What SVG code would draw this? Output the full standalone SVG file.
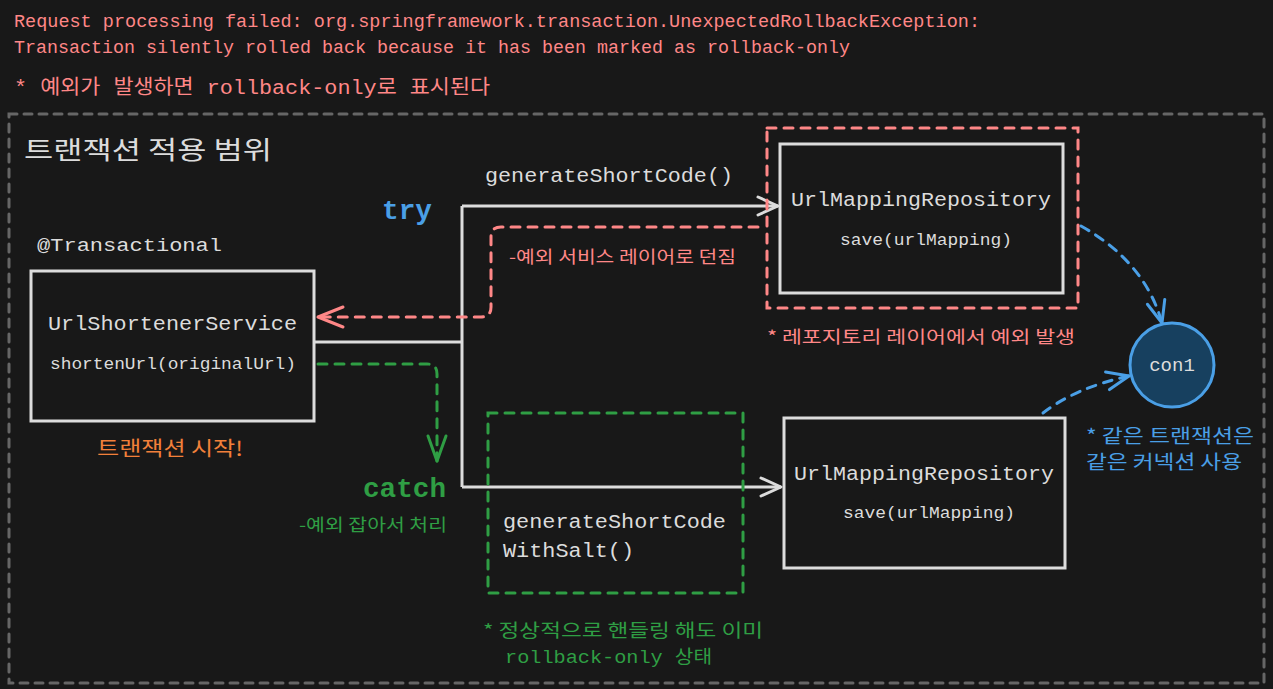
<svg xmlns="http://www.w3.org/2000/svg" width="1273" height="689" viewBox="0 0 1273 689">
<style>
text{font-family:"Liberation Mono","Noto Sans CJK KR",monospace;}
.kr{font-family:"Noto Sans CJK KR","Liberation Mono",sans-serif;}
.red{fill:#ff8787;}
.grn{fill:#2f9e44;}
.blu{fill:#4a9fe6;}
.wht{fill:#dcdcdc;}
.org{fill:#f2803a;}
.box{fill:none;stroke:#dcdcdc;stroke-width:3;}
.line{fill:none;stroke:#dcdcdc;stroke-width:3;}
.rdash{fill:none;stroke:#ff8787;stroke-width:3;stroke-dasharray:9 8;stroke-linecap:round;}
.gdash{fill:none;stroke:#2f9e44;stroke-width:3;stroke-dasharray:9 8;stroke-linecap:round;}
.bdash{fill:none;stroke:#4a9fe6;stroke-width:3;stroke-dasharray:9 8;stroke-linecap:round;}
.head{fill:none;stroke-width:3;stroke-linecap:round;stroke-linejoin:round;}
</style>
<defs>
<marker id="hw" markerUnits="userSpaceOnUse" viewBox="-24 -12 28 24" refX="0" refY="0" markerWidth="28" markerHeight="24" orient="auto"><path d="M-20,-9 L0,0 L-20,9" class="head" stroke="#dcdcdc"/></marker>
<marker id="hr" markerUnits="userSpaceOnUse" viewBox="-30 -14 34 28" refX="0" refY="0" markerWidth="34" markerHeight="28" orient="auto"><path d="M-25,-10 L0,0 L-25,10" class="head" stroke="#ff8787"/></marker>
<marker id="hg" markerUnits="userSpaceOnUse" viewBox="-30 -14 34 28" refX="0" refY="0" markerWidth="34" markerHeight="28" orient="auto"><path d="M-25,-9 L0,0 L-25,9" class="head" stroke="#2f9e44"/></marker>
<marker id="hb" markerUnits="userSpaceOnUse" viewBox="-30 -14 34 28" refX="0" refY="0" markerWidth="34" markerHeight="28" orient="auto"><path d="M-22,-9 L0,0 L-22,9" class="head" stroke="#4a9fe6"/></marker>
</defs>
<rect width="1273" height="689" fill="#181818"/>

<g id="header">
<text x="14" y="27" font-size="18" class="red" textLength="966" lengthAdjust="spacingAndGlyphs">Request processing failed: org.springframework.transaction.UnexpectedRollbackException:</text>
<text x="14" y="53" font-size="18" class="red" textLength="836" lengthAdjust="spacingAndGlyphs">Transaction silently rolled back because it has been marked as rollback-only</text>
<text x="14" y="94" font-size="20" class="red" textLength="476" lengthAdjust="spacingAndGlyphs">* 예외가 발생하면 rollback-only로 표시된다</text>
</g>

<g id="scope">
<rect x="9" y="114" width="1255" height="569" fill="none" stroke="#666" stroke-width="3" stroke-dasharray="8 7" stroke-linecap="round"/>
<text x="24" y="159" font-size="25" class="wht kr" textLength="248" lengthAdjust="spacingAndGlyphs">트랜잭션 적용 범위</text>
</g>

<g id="connectors">
<polyline class="line" points="314,342 462,342"/>
<polyline class="line" points="462,206 462,487"/>
<polyline class="line" points="462,206 778,206" marker-end="url(#hw)"/>
<polyline class="line" points="462,487 781,487" marker-end="url(#hw)"/>
<path class="rdash" d="M758,227 L501,227 Q491,227 491,237 L491,307 Q491,317 481,317 L318,317" marker-end="url(#hr)"/>
<path class="gdash" d="M318,364 L427,364 Q437,364 437,374 L437,461" marker-end="url(#hg)"/>
<path class="bdash" d="M1081,226 Q1145,262 1162,323" marker-end="url(#hb)"/>
<path class="bdash" d="M1043,413 Q1075,388 1129,376" marker-end="url(#hb)"/>
</g>

<g id="service">
<text x="37" y="251" font-size="19" class="wht" textLength="185" lengthAdjust="spacingAndGlyphs">@Transactional</text>
<rect class="box" x="31" y="271" width="283" height="150"/>
<text x="48" y="330" font-size="20" class="wht" textLength="249" lengthAdjust="spacingAndGlyphs">UrlShortenerService</text>
<text x="50" y="369" font-size="16" class="wht" textLength="246" lengthAdjust="spacingAndGlyphs">shortenUrl(originalUrl)</text>
<text x="97" y="456" font-size="20" class="org kr" textLength="146" lengthAdjust="spacingAndGlyphs">트랜잭션 시작!</text>
</g>

<g id="try-label">
<text x="382" y="219" font-size="28" class="blu" font-weight="bold" textLength="50" lengthAdjust="spacingAndGlyphs">try</text>
<text x="485" y="182" font-size="20" class="wht" textLength="248" lengthAdjust="spacingAndGlyphs">generateShortCode()</text>
<text x="509" y="263" font-size="17" class="red kr" textLength="227" lengthAdjust="spacingAndGlyphs">-예외 서비스 레이어로 던짐</text>
</g>

<g id="repo1">
<rect class="rdash" x="767" y="128" width="311" height="180"/>
<rect class="box" x="780" y="144" width="283" height="149"/>
<text x="791" y="206" font-size="20" class="wht" textLength="260" lengthAdjust="spacingAndGlyphs">UrlMappingRepository</text>
<text x="840" y="245" font-size="16" class="wht" textLength="172" lengthAdjust="spacingAndGlyphs">save(urlMapping)</text>
<text x="767" y="343" font-size="17" class="red kr" textLength="308" lengthAdjust="spacingAndGlyphs">* 레포지토리 레이어에서 예외 발생</text>
</g>

<g id="catch-label">
<text x="363" y="497" font-size="28" class="grn" font-weight="bold" textLength="83" lengthAdjust="spacingAndGlyphs">catch</text>
<text x="299" y="531" font-size="17" class="grn kr" textLength="148" lengthAdjust="spacingAndGlyphs">-예외 잡아서 처리</text>
</g>

<g id="salt">
<rect class="gdash" x="488" y="413" width="255" height="180"/>
<text x="503" y="528" font-size="20" class="wht" textLength="223" lengthAdjust="spacingAndGlyphs">generateShortCode</text>
<text x="503" y="557" font-size="20" class="wht" textLength="131" lengthAdjust="spacingAndGlyphs">WithSalt()</text>
<text x="483" y="637" font-size="18" class="grn kr" textLength="280" lengthAdjust="spacingAndGlyphs">* 정상적으로 핸들링 해도 이미</text>
<text x="505" y="663" font-size="18" class="grn" textLength="207" lengthAdjust="spacingAndGlyphs">rollback-only 상태</text>
</g>

<g id="repo2">
<rect class="box" x="784" y="418" width="281" height="150"/>
<text x="794" y="480" font-size="20" class="wht" textLength="260" lengthAdjust="spacingAndGlyphs">UrlMappingRepository</text>
<text x="843" y="518" font-size="16" class="wht" textLength="172" lengthAdjust="spacingAndGlyphs">save(urlMapping)</text>
</g>

<g id="con1">
<circle cx="1172" cy="365" r="42" fill="#17405f" stroke="#4a9fe6" stroke-width="3"/>
<text x="1172" y="371" font-size="19" class="wht" text-anchor="middle">con1</text>
<text x="1086" y="443" font-size="19" class="blu kr" textLength="168" lengthAdjust="spacingAndGlyphs">* 같은 트랜잭션은</text>
<text x="1086" y="469" font-size="19" class="blu kr" textLength="156" lengthAdjust="spacingAndGlyphs">같은 커넥션 사용</text>
</g>
</svg>
